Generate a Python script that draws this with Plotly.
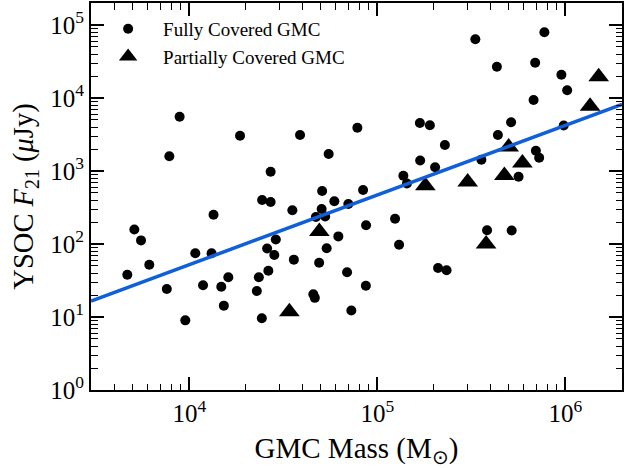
import numpy as np
import plotly.graph_objects as go

# Fully covered GMCs: mass (Msun), YSOC F21 (uJy)
full_mass = [4680, 5100, 5535, 6125, 7590, 7830, 8880, 9520, 10760, 11830,
             13130, 13450, 14790, 15260, 16120, 18610, 22860, 23430, 24300, 24390,
             25930, 26320, 27070, 27070, 28310, 28840, 35320, 35970, 38800, 45650,
             46500, 47100, 49030, 50540, 50850, 52780, 53760, 55080, 59060, 62020,
             69000, 70100, 72720, 78290, 83950, 87080, 86870, 124200, 130450, 137500,
             143600, 168300, 168900, 190200, 202800, 210300, 233400, 228600, 332000, 357400,
             383200, 432200, 437500, 514300, 518100, 563600, 677300, 690700, 696700, 725300,
             773100, 952100, 979500, 1022000]
full_flux = [38, 158, 112, 52, 24.2, 1590, 5545, 9.0, 74.6, 27.2,
             74.6, 252, 26.0, 14.3, 35.1, 3046, 22.7, 35.0, 9.6, 401,
             86.8, 42.9, 978, 376, 70.7, 115, 290, 61.0, 3113, 20.5,
             18.3, 234, 55.4, 302, 532, 238, 87.6, 1710, 386, 127,
             41.0, 353, 12.3, 3918, 549, 181, 26.8, 222, 97.8, 859,
             674, 4547, 1393, 4227, 1124, 46.9, 43.6, 2271, 63700, 1428,
             154, 26750, 3113, 4646, 153, 833, 9394, 30360, 1891, 1522,
             79400, 20790, 4200, 12750]

# Partially covered GMCs
part_mass = [34050, 49150, 180000, 302200, 378600, 473600, 499300, 590600, 1353000, 1503000]
part_flux = [11.8, 148, 627, 707, 100, 867, 2132, 1288, 7696, 19590]

# Power-law fit line endpoints
fit_mass = [3000, 2000000]
fit_flux = [16.5, 8200]

# Tick labels
x_tick_vals = [1e4, 1e5, 1e6]
x_tick_text = ["10<sup>4</sup>", "10<sup>5</sup>", "10<sup>6</sup>"]
y_tick_vals = [1, 10, 100, 1000, 1e4, 1e5]
y_tick_text = ["10<sup>0</sup>", "10<sup>1</sup>", "10<sup>2</sup>", "10<sup>3</sup>",
               "10<sup>4</sup>", "10<sup>5</sup>"]

FONT = "Liberation Serif"

fig = go.Figure()
fig.add_trace(go.Scatter(
    x=full_mass, y=full_flux, mode="markers", name="Fully Covered GMC",
    marker=dict(symbol="circle", size=10, color="black", line=dict(width=0)),
))
fig.add_trace(go.Scatter(
    x=part_mass, y=part_flux, mode="markers", name="Partially Covered GMC",
    marker=dict(symbol="triangle-up", size=18, color="black", line=dict(width=0)),
))
fig.add_trace(go.Scatter(
    x=fit_mass, y=fit_flux, mode="lines", showlegend=False,
    line=dict(color="#0f5fda", width=3.5),
))

def minor_vals(lo, hi):
    vals = []
    for k in range(lo, hi + 1):
        for m in range(2, 10):
            vals.append(m * 10 ** k)
    return vals

axis_common = dict(
    type="log", showgrid=False, zeroline=False, automargin=False,
    showline=True, linecolor="black", linewidth=2, mirror="ticks",
    ticks="inside", ticklen=13, tickwidth=1.6, tickcolor="black",
    tickfont=dict(family=FONT, size=25, color="black"),
)

fig.update_xaxes(
    **axis_common,
    tickvals=x_tick_vals, ticktext=x_tick_text,
    range=[np.log10(3000), np.log10(2e6)],
    minor=dict(ticks="inside", ticklen=6.5, tickwidth=1.3, tickcolor="black",
               tickvals=minor_vals(3, 6), showgrid=False),
    title=dict(text="GMC Mass (M<sub>⊙</sub>)", font=dict(family=FONT, size=29, color="black"),
               standoff=12),
)
fig.update_yaxes(
    **axis_common,
    tickvals=y_tick_vals, ticktext=y_tick_text,
    range=[0, np.log10(2e5)],
    minor=dict(ticks="inside", ticklen=6.5, tickwidth=1.3, tickcolor="black",
               tickvals=minor_vals(0, 5), showgrid=False),
    title=dict(text="YSOC <i>F</i><sub>21</sub> (<i>μ</i>Jy)", font=dict(family=FONT, size=28.5, color="black"),
               standoff=8),
)

fig.update_layout(
    width=624, height=468,
    margin=dict(l=91, r=2, t=3, b=78),
    paper_bgcolor="white", plot_bgcolor="white",
    font=dict(family=FONT, color="black"),
    hovermode=False,
    legend=dict(x=0.004, y=0.982, xanchor="left", yanchor="top",
                bgcolor="rgba(0,0,0,0)", itemwidth=60,
                font=dict(family=FONT, size=19, color="black")),
)

fig.write_html("out.html",
               config={"displayModeBar": False},
               post_script="document.body.style.margin='0';document.body.style.overflow='hidden';")
